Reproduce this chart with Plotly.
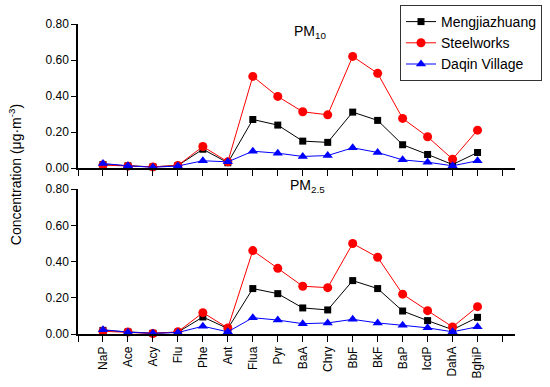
import plotly.graph_objects as go

categories = ["NaP", "Ace", "Acy", "Flu", "Phe", "Ant", "Flua", "Pyr", "BaA", "Chry",
              "BbF", "BkF", "BaP", "IcdP", "DahA", "BghiP"]

pm10_meng = [0.020, 0.013, 0.007, 0.015, 0.105, 0.030, 0.270, 0.239, 0.150, 0.143,
             0.311, 0.265, 0.130, 0.076, 0.020, 0.087]
pm10_steel = [0.017, 0.011, 0.007, 0.015, 0.120, 0.035, 0.509, 0.398, 0.313, 0.296,
              0.620, 0.526, 0.276, 0.174, 0.050, 0.211]
pm10_daqin = [0.026, 0.013, 0.005, 0.012, 0.041, 0.035, 0.094, 0.083, 0.065, 0.070,
              0.113, 0.087, 0.046, 0.033, 0.013, 0.041]

pm25_meng = [0.020, 0.011, 0.004, 0.010, 0.094, 0.030, 0.251, 0.223, 0.144, 0.133,
             0.295, 0.251, 0.127, 0.074, 0.024, 0.092]
pm25_steel = [0.015, 0.011, 0.003, 0.012, 0.118, 0.033, 0.461, 0.363, 0.264, 0.256,
              0.500, 0.424, 0.220, 0.129, 0.039, 0.151]
pm25_daqin = [0.024, 0.010, 0.004, 0.008, 0.043, 0.012, 0.090, 0.077, 0.057, 0.061,
              0.081, 0.061, 0.048, 0.034, 0.012, 0.040]

series_names = ["Mengjiazhuang", "Steelworks", "Daqin Village"]
yticks = [0.0, 0.2, 0.4, 0.6, 0.8]

xs = list(range(len(categories)))
styles = [
    dict(color="black", symbol="square", size=7),
    dict(color="red", symbol="circle", size=9),
    dict(color="blue", symbol="triangle-up", size=9),
]

FAM = "Arial, Liberation Sans, sans-serif"

fig = go.Figure()
panels = [(pm10_meng, pm10_steel, pm10_daqin), (pm25_meng, pm25_steel, pm25_daqin)]
for p, data in enumerate(panels):
    ya = "y" if p == 0 else "y2"
    xa = "x" if p == 0 else "x2"
    for i, vals in enumerate(data):
        st = styles[i]
        fig.add_trace(go.Scatter(
            x=xs, y=vals, mode="lines+markers", name=series_names[i],
            xaxis=xa, yaxis=ya, showlegend=(p == 0),
            line=dict(color=st["color"], width=1),
            marker=dict(color=st["color"], symbol=st["symbol"], size=st["size"]),
            cliponaxis=False,
        ))

font = dict(family=FAM, size=12, color="black")

xcommon = dict(range=[-1, 16.5], tickmode="array", tickvals=xs, ticktext=categories,
               showline=True, linecolor="black",
               linewidth=1.5, ticks="outside", ticklen=6, tickwidth=1, tickcolor="black",
               minor=dict(tickmode="linear", tick0=-1, dtick=1, ticks="outside",
                          ticklen=6, tickwidth=1, tickcolor="black", showgrid=False),
               showgrid=False, zeroline=False, tickangle=-90, tickfont=font,
               automargin=False)
ycommon = dict(range=[0, 0.8], tickvals=yticks, tickformat=".2f", showline=True,
               linecolor="black", linewidth=1.5, ticks="outside", ticklen=5,
               tickwidth=1, tickcolor="black", showgrid=False, zeroline=False,
               tickfont=font, automargin=False)

fig.update_layout(
    width=550, height=387,
    margin=dict(l=78, r=35, t=24, b=53, autoexpand=False),
    paper_bgcolor="white", plot_bgcolor="white",
    font=font,
    xaxis=dict(**xcommon, anchor="y", showticklabels=False),
    xaxis2=dict(**xcommon, anchor="y2", matches="x"),
    yaxis=dict(**ycommon, domain=[0.535, 1.0], anchor="x"),
    yaxis2=dict(**ycommon, domain=[0.0, 0.467], anchor="x2"),
    legend=dict(xref="container", yref="container", x=400 / 550, y=1 - 5 / 387,
                xanchor="left", yanchor="top", bordercolor="#333",
                borderwidth=1, bgcolor="white",
                font=dict(family=FAM, size=14),
                tracegroupgap=0),
    showlegend=True,
    annotations=[
        dict(text="PM<sub>10</sub>", xref="paper", yref="paper",
             x=(310 - 78) / 437, y=(333.7 - 21) / 309.7,
             showarrow=False, font=dict(family=FAM, size=14)),
        dict(text="PM<sub>2.5</sub>", xref="paper", yref="paper",
             x=(307 - 78) / 437, y=(333.7 - 186) / 309.7,
             showarrow=False, font=dict(family=FAM, size=14)),
        dict(text="Concentration (μg·m<sup>-3</sup>)", xref="paper", yref="paper",
             x=(15 - 78) / 437, y=(333.7 - 175) / 309.7, textangle=-90,
             xanchor="center", yanchor="middle", showarrow=False,
             font=dict(family=FAM, size=14)),
    ],
)

fig.write_html("out.html", config={"displayModeBar": False},
               post_script="document.body.style.margin='0';document.body.style.padding='0';")
